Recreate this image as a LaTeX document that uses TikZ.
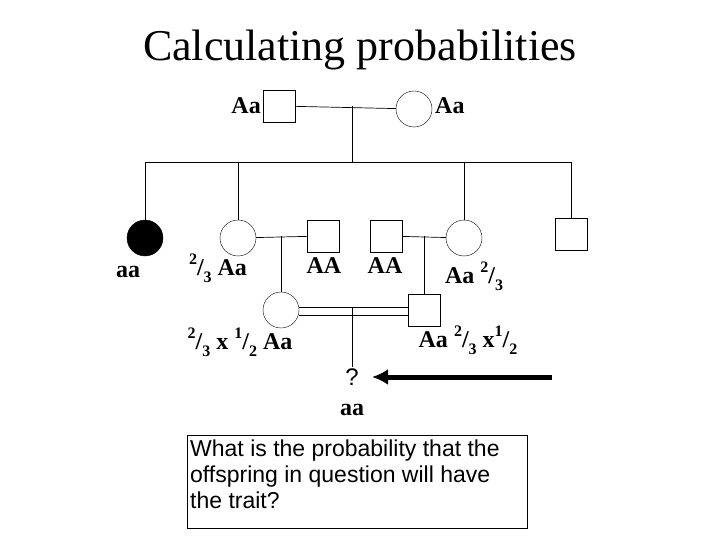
\documentclass[tikz,border=0pt]{standalone}
\usepackage{fontspec}
\usetikzlibrary{arrows.meta}
\setmainfont{Liberation Serif}
\setsansfont{Liberation Sans}
\newcommand{\myfr}[2]{\raisebox{0.45em}{\fontsize{16}{16}\selectfont #1}/\raisebox{-0.3em}{\fontsize{16}{16}\selectfont #2}}
\begin{document}
\begin{tikzpicture}[x=1pt,y=-1pt,
  sq/.style={draw,minimum size=32pt,inner sep=0pt},
  ci/.style={draw,circle,minimum size=36pt,inner sep=0pt},
  lab/.style={font=\fontsize{24}{26}\selectfont\bfseries,inner sep=0pt},
  ln/.style={draw,line width=0.7pt}]
\useasboundingbox (0,0) rectangle (720,540);
\node[font=\fontsize{44}{48}\selectfont] (title) at (360,50) {Calculating probabilities};
\node[sq] (f) at (279,106) {};
\node[ci] (m) at (414,109) {};
\node[lab,anchor=east] (lf) at (261,106) {Aa};
\node[lab,anchor=west] (lm) at (435,106) {Aa};
\coordinate (pm) at (352,106);
\coordinate (ps) at (352,162);
\coordinate (sl) at (145,162);
\coordinate (sr) at (571,162);
\draw[ln] (f) -- (m);
\draw[ln] (pm) -- (ps);
\draw[ln] (sl) -- (sr);
\node[ci,fill=black] (c1) at (145,238) {};
\node[ci] (c2) at (238,238) {};
\node[sq] (s1) at (323,236) {};
\node[sq] (s2) at (386,236) {};
\node[ci] (c3) at (464,238) {};
\node[sq] (c4) at (571,234) {};
\draw[ln] (sl) -- (c1);
\draw[ln] (238,162) -- (c2);
\draw[ln] (464,162) -- (c3);
\draw[ln] (sr) -- (c4);
\draw[ln] (c2) -- (s1);
\draw[ln] (s2) -- (c3);
\node[ci] (g1) at (281,310) {};
\node[sq] (g2) at (424,310) {};
\draw[ln] (281,236) -- (g1);
\draw[ln] (424,236) -- (g2);
\draw[ln] (g1.east |- 0,307) -- (g2.west |- 0,307);
\draw[ln] (g1.east |- 0,315) -- (g2.west |- 0,315);
\node[font=\sffamily\fontsize{24}{26}\selectfont,inner sep=1pt] (q) at (352,377) {?};
\draw[ln] (352,307) -- (q);
\coordinate (ar) at (552,377);
\draw[line width=5pt,-{Latex[length=16pt,width=16pt]}] (ar) -- (372,377);
\node[lab] (laa) at (128,272) {aa};
\node[lab] (l2) at (218,268) {\myfr{2}{3} Aa};
\node[lab] (l3) at (324,266) {AA};
\node[lab] (l4) at (385,266) {AA};
\node[lab] (l5) at (474,276) {Aa \myfr{2}{3}};
\node[lab] (l6) at (240,342) {\myfr{2}{3} x \myfr{1}{2} Aa};
\node[lab] (l7) at (468,340) {Aa \myfr{2}{3} x\myfr{1}{2}};
\node[lab] (l8) at (352,410) {aa};
\node[draw,line width=0.7pt,minimum width=340pt,minimum height=93pt,anchor=north west,inner sep=0pt] (box) at (187,435) {};
\node[anchor=north west,align=left,font=\sffamily\fontsize{23}{26}\selectfont,inner sep=0pt] (txt) at (190,440) {What is the probability that the\\offspring in question will have\\the trait?};
\end{tikzpicture}
\end{document}
